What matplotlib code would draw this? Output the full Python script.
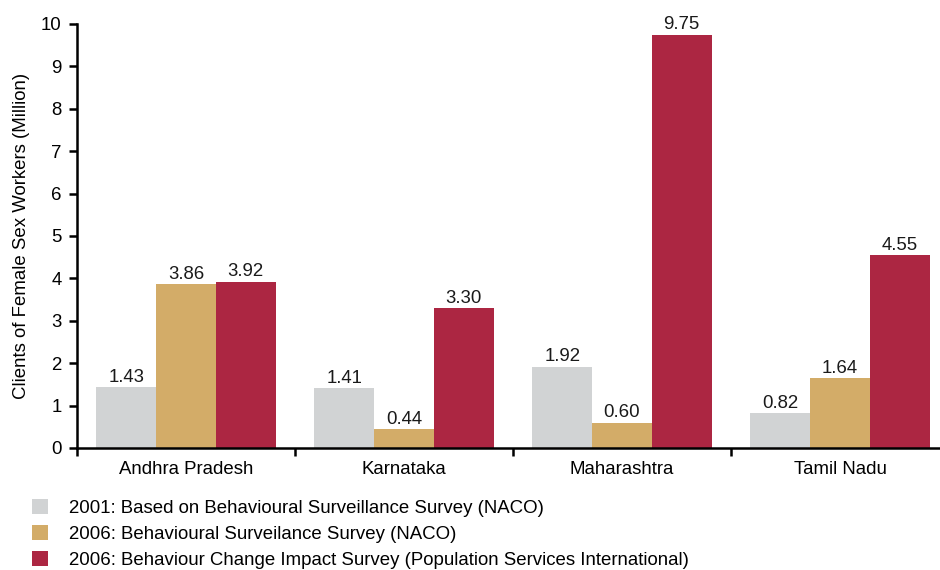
import matplotlib
matplotlib.use("Agg")
import matplotlib.pyplot as plt
from matplotlib.patches import Patch
import numpy as np

plt.rcParams['font.family'] = ['Liberation Sans', 'DejaVu Sans']

states = ["Andhra Pradesh", "Karnataka", "Maharashtra", "Tamil Nadu"]
series_names = [
    "2001: Based on Behavioural Surveillance Survey (NACO)",
    "2006: Behavioural Surveilance Survey (NACO)",
    "2006: Behaviour Change Impact Survey (Population Services International)",
]
bss_2001 = [1.43, 1.41, 1.92, 0.82]
bss_2006 = [3.86, 0.44, 0.60, 1.64]
bcis_2006 = [3.92, 3.30, 9.75, 4.55]
colors = ["#D1D3D4", "#D3AC68", "#AC2642"]

fig = plt.figure(figsize=(9.4, 5.7), dpi=100)
ax = fig.add_axes([77 / 940, 1 - 448 / 570, 1 - 77 / 940, (448 - 24) / 570])

x = np.arange(len(states))
w = 0.274
fs = 13.4
for i, (vals, c) in enumerate(zip([bss_2001, bss_2006, bcis_2006], colors)):
    pos = x + (i - 1) * w
    ax.bar(pos, vals, width=w, color=c, linewidth=0)
    for p, v in zip(pos, vals):
        ax.annotate(f"{v:.2f}", (p, v), xytext=(0, 4), textcoords="offset points",
                    ha="center", va="baseline", fontsize=fs, color="#1a1a1a")

ax.set_xlim(-0.5, -0.5 + (940 - 77) / 218)
ax.set_ylim(0, 10)
ax.set_yticks(range(0, 11))
ax.tick_params(axis="y", labelsize=fs, length=6, width=1.8, direction="out", pad=5)

# group boundary ticks on x-axis, labels centred under groups
ax.set_xticks(np.arange(-0.5, 3.5, 1.0))
ax.set_xticklabels([])
ax.set_xticks(x, minor=True)
ax.set_xticklabels(states, minor=True, fontsize=fs)
ax.tick_params(axis="x", which="major", length=6, width=1.8, direction="out")
ax.tick_params(axis="x", which="minor", length=0, pad=9)

for s in ["top", "right"]:
    ax.spines[s].set_visible(False)
for s in ["left", "bottom"]:
    ax.spines[s].set_linewidth(1.8)

ax.set_ylabel("Clients of Female Sex Workers (Million)", fontsize=fs, labelpad=8)

handles = [Patch(facecolor=c, edgecolor="none") for c in colors]
fig.legend(handles, series_names, loc="upper left", bbox_to_anchor=(25 / 940, 1 - 492 / 570),
           frameon=False, fontsize=fs, handlelength=0.85, handleheight=0.85,
           handletextpad=1.1, labelspacing=0.42, borderaxespad=0)

fig.savefig("out.png", dpi=100)
